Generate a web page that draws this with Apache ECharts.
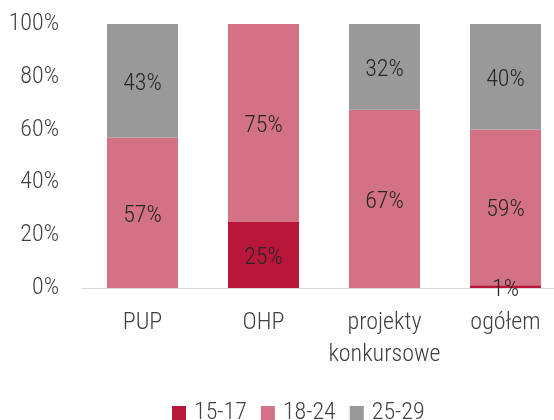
<!DOCTYPE html>
<html>
<head>
<meta charset="utf-8">
<script src="https://cdn.jsdelivr.net/npm/echarts@6/dist/echarts.min.js"></script>
<style>
  html, body { margin: 0; padding: 0; background: #fff; overflow: hidden; }
  #chart { width: 566px; height: 420px; }
</style>
</head>
<body>
<div id="chart"></div>
<script>
var categories = ['PUP', 'OHP', 'projekty\nkonkursowe', 'ogółem'];
var age1517 = [0, 25, 0, 1];
var age1824 = [57, 75, 67.49, 59];
var age2529 = [43, 0, 32.49, 40];
var yTicks = [0, 20, 40, 60, 80, 100];

var font = "'Roboto Condensed', 'Roboto', sans-serif";
var axisColor = '#404040';
var fs = 24;

function hideZero(p) {
  var v = Math.round(p.value);
  return v ? v + '%' : '';
}

function makeSeries(name, data, color) {
  return {
    name: name,
    type: 'bar',
    stack: 'all',
    data: data,
    barWidth: 71,
    itemStyle: { color: color },
    label: {
      show: true,
      position: 'inside',
      offset: [0, 3],
      formatter: hideZero,
      color: '#262626',
      fontFamily: font,
      fontWeight: 300,
      fontSize: fs
    }
  };
}

var chart = echarts.init(document.getElementById('chart'));
chart.setOption({
  animation: false,
  textStyle: { fontFamily: font },
  grid: { left: 82, top: 24, right: 0, height: 264, containLabel: false },
  legend: {
    top: 396,
    left: 167,
    itemWidth: 14,
    itemHeight: 14,
    itemGap: 14,
    icon: 'rect',
    textStyle: { fontFamily: font, fontWeight: 300, fontSize: fs, color: axisColor, padding: [0, 0, 0, 3] },
    data: ['15-17', '18-24', '25-29']
  },
  xAxis: {
    type: 'category',
    data: categories,
    axisLine: { lineStyle: { color: '#d9d9d9' } },
    axisTick: { show: false },
    axisLabel: {
      interval: 0,
      color: axisColor,
      fontFamily: font,
      fontWeight: 300,
      fontSize: fs,
      margin: 19,
      lineHeight: 32
    }
  },
  yAxis: {
    type: 'value',
    min: yTicks[0],
    max: yTicks[yTicks.length - 1],
    interval: 20,
    splitLine: { show: false },
    axisLine: { show: false },
    axisTick: { show: false },
    axisLabel: {
      color: axisColor,
      fontFamily: font,
      fontWeight: 300,
      fontSize: fs,
      margin: 23,
      formatter: '{value}%'
    }
  },
  series: [
    makeSeries('15-17', age1517, '#B8173A'),
    makeSeries('18-24', age1824, '#D37284'),
    makeSeries('25-29', age2529, '#999999')
  ]
});
</script>
</body>
</html>
